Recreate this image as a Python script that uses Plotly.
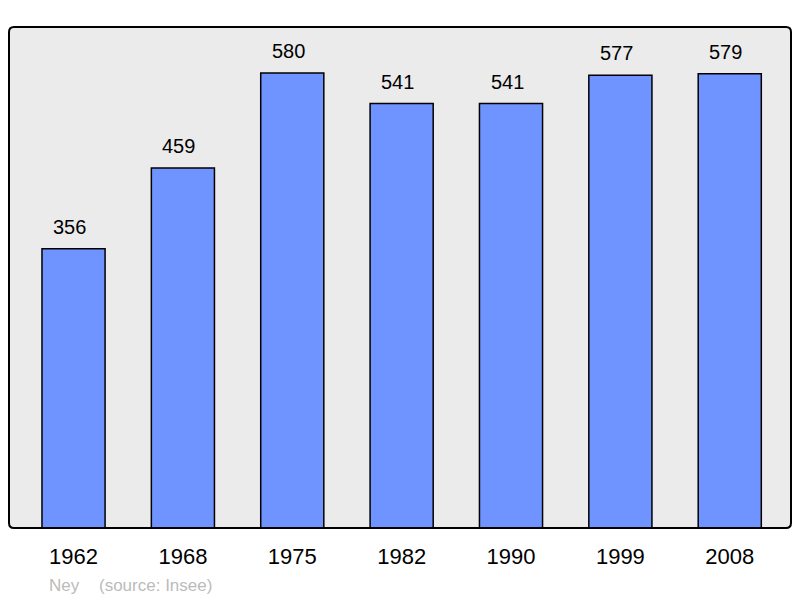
import plotly.graph_objects as go

years = ["1962", "1968", "1975", "1982", "1990", "1999", "2008"]
population = [356, 459, 580, 541, 541, 577, 579]
commune = "Ney"
source = "(source: Insee)"

FONT = "Liberation Sans, Arial, sans-serif"

fig = go.Figure()
fig.add_trace(go.Bar(
    x=list(range(len(years))), y=population,
    width=0.577,
    marker=dict(color="#7094ff", line=dict(color="#000000", width=1.5)),
    hoverinfo="y",
))

for i, v in enumerate(population):
    fig.add_annotation(x=i, y=v, xref="x", yref="y", text=str(v), showarrow=False,
                       yanchor="bottom", yshift=9, xshift=-4,
                       font=dict(family=FONT, size=20, color="#000"))

# plot area is 782 x 501 px
fig.add_annotation(xref="paper", yref="paper", x=(47-9)/782, y=-(585-528)/501,
                   xanchor="left", yanchor="middle", showarrow=False, text=commune,
                   font=dict(family=FONT, size=17, color="#bbbbbb"))
fig.add_annotation(xref="paper", yref="paper", x=(97-9)/782, y=-(585-528)/501,
                   xanchor="left", yanchor="middle", showarrow=False, text=source,
                   font=dict(family=FONT, size=17, color="#bbbbbb"))

# rounded frame
rx, ry = 5/782, 5/501
path = (f"M {rx},0 L {1-rx},0 Q 1,0 1,{ry} L 1,{1-ry} Q 1,1 {1-rx},1 "
        f"L {rx},1 Q 0,1 0,{1-ry} L 0,{ry} Q 0,0 {rx},0 Z")
fig.add_shape(type="path", xref="paper", yref="paper", path=path,
              line=dict(width=0), fillcolor="#ebebeb", layer="below")
fig.add_shape(type="path", xref="paper", yref="paper", path=path,
              line=dict(color="#000", width=2), fillcolor="rgba(0,0,0,0)", layer="above")

fig.update_layout(
    width=792, height=590,
    margin=dict(l=1, r=9, t=19, b=70),
    paper_bgcolor="#ffffff", plot_bgcolor="rgba(0,0,0,0)",
    showlegend=False,
    xaxis=dict(range=[-0.59, 6.56], showgrid=False, zeroline=False,
               showline=False, ticks="", ticklabelstandoff=13,
               tickmode="array", tickvals=list(range(len(years))), ticktext=years,
               tickfont=dict(family=FONT, size=22, color="#000")),
    yaxis=dict(range=[0, 638.6], showgrid=False, zeroline=False, showticklabels=False,
               ticks="", showline=False),
)

fig.write_html("out.html")
